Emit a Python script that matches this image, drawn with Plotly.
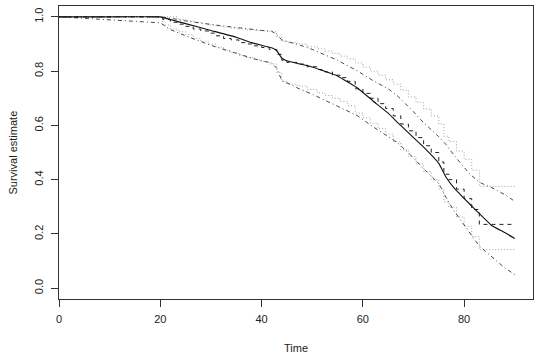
import plotly.graph_objects as go

# Kaplan-Meier step estimate (dashed) with pointwise CI (dotted)
km_time = [0, 20.5, 22, 23.5, 25, 26.5, 28, 29.5, 31, 32.5, 34, 35.5, 37, 38.5, 40, 41.5, 43, 44, 45,
           47, 49, 51, 52.5, 54, 55.5, 57, 58.5, 60, 61.5, 63, 64.5, 66, 67.5, 69, 70.5, 72, 73.5,
           75, 76, 77, 78.5, 80, 81.5, 83, 90]
km_surv = [1.0, 0.99, 0.98, 0.973, 0.965, 0.955, 0.948, 0.94, 0.93, 0.92, 0.915, 0.905, 0.90, 0.893,
           0.887, 0.88, 0.862, 0.84, 0.832, 0.826, 0.816, 0.806, 0.797, 0.785, 0.776, 0.762, 0.735,
           0.718, 0.70, 0.68, 0.662, 0.635, 0.605, 0.58, 0.555, 0.525, 0.50, 0.465, 0.42, 0.40,
           0.365, 0.33, 0.29, 0.235, 0.235]
km_upper = [1.0, 1.0, 1.0, 0.99, 0.985, 0.98, 0.975, 0.97, 0.965, 0.962, 0.958, 0.955, 0.952, 0.95,
            0.948, 0.945, 0.925, 0.91, 0.905, 0.90, 0.89, 0.882, 0.874, 0.865, 0.855, 0.845, 0.83,
            0.815, 0.80, 0.785, 0.768, 0.752, 0.73, 0.705, 0.685, 0.66, 0.635, 0.605, 0.56, 0.54,
            0.505, 0.475, 0.435, 0.375, 0.375]
km_lower = [1.0, 0.97, 0.955, 0.945, 0.935, 0.92, 0.91, 0.90, 0.888, 0.877, 0.868, 0.857, 0.85, 0.842,
            0.835, 0.826, 0.795, 0.762, 0.752, 0.745, 0.732, 0.72, 0.71, 0.70, 0.688, 0.672, 0.645,
            0.628, 0.608, 0.588, 0.568, 0.54, 0.51, 0.485, 0.458, 0.43, 0.40, 0.365, 0.318, 0.298,
            0.262, 0.228, 0.19, 0.142, 0.142]

# Fitted survival curve (solid) with CI (dot-dash)
fit_time = [0, 10, 20, 22, 25, 30, 35, 38, 40, 42, 43, 44, 45, 47.4, 50, 55, 59, 62, 65, 67, 70,
            72, 75, 76.4, 78, 81, 83, 85.5, 88, 90]
fit_surv = [1.0, 1.0, 1.0, 0.99, 0.975, 0.95, 0.925, 0.905, 0.895, 0.886, 0.875, 0.848, 0.838,
            0.827, 0.815, 0.782, 0.737, 0.69, 0.645, 0.608, 0.555, 0.52, 0.46, 0.41, 0.37, 0.312,
            0.275, 0.23, 0.205, 0.183]
fit_upper = [1.0, 1.0, 1.0, 0.995, 0.985, 0.972, 0.96, 0.953, 0.95, 0.947, 0.935, 0.915, 0.91,
             0.897, 0.88, 0.84, 0.80, 0.765, 0.735, 0.706, 0.65, 0.61, 0.558, 0.53, 0.49, 0.423,
             0.39, 0.37, 0.345, 0.32]
fit_lower = [1.0, 0.99, 0.978, 0.953, 0.93, 0.895, 0.865, 0.848, 0.838, 0.83, 0.81, 0.765, 0.757,
             0.735, 0.715, 0.672, 0.635, 0.595, 0.56, 0.534, 0.48, 0.44, 0.386, 0.335, 0.285, 0.205,
             0.155, 0.115, 0.075, 0.05]

x_ticks = [0, 20, 40, 60, 80]
y_ticks = [0.0, 0.2, 0.4, 0.6, 0.8, 1.0]
y_tick_text = ["0.0", "0.2", "0.4", "0.6", "0.8", "1.0"]

fig = go.Figure()
fig.add_trace(go.Scatter(x=km_time, y=km_upper, mode="lines", line_shape="hv",
                         line=dict(color="#a0a0a0", width=1, dash="1px,2px")))
fig.add_trace(go.Scatter(x=km_time, y=km_lower, mode="lines", line_shape="hv",
                         line=dict(color="#a0a0a0", width=1, dash="1px,2px")))
fig.add_trace(go.Scatter(x=fit_time, y=fit_upper, mode="lines",
                         line=dict(color="#4a4a4a", width=1, dash="1px,3px,4px,3px")))
fig.add_trace(go.Scatter(x=fit_time, y=fit_lower, mode="lines",
                         line=dict(color="#4a4a4a", width=1, dash="1px,3px,4px,3px")))
fig.add_trace(go.Scatter(x=km_time, y=km_surv, mode="lines", line_shape="hv",
                         line=dict(color="#222222", width=1, dash="4px,4px")))
fig.add_trace(go.Scatter(x=fit_time, y=fit_surv, mode="lines", line_shape="spline",
                         line=dict(color="#111111", width=1.1, smoothing=0.3)))

axis_font = dict(family="Liberation Sans, Arial, sans-serif", size=11, color="#222222")

fig.update_layout(
    width=539, height=360,
    margin=dict(l=59, r=6, t=6, b=61),
    plot_bgcolor="white", paper_bgcolor="white",
    showlegend=False,
    font=axis_font,
    xaxis=dict(range=[0, 93.6], tickvals=x_ticks, ticks="outside", ticklen=7,
               ticklabelstandoff=3,
               tickcolor="#333333", showgrid=False, zeroline=False,
               showline=True, linecolor="#333333", linewidth=1, mirror=True,
               tickfont=axis_font),
    yaxis=dict(range=[-0.04, 1.04], tickvals=y_ticks, ticktext=y_tick_text,
               ticks="outside", ticklen=7, tickangle=-90, ticklabelstandoff=4,
               tickcolor="#333333", showgrid=False, zeroline=False,
               showline=True, linecolor="#333333", linewidth=1, mirror=True,
               tickfont=axis_font),
    annotations=[
        dict(text="Time", xref="paper", yref="paper", x=0.5, y=0, yshift=-49,
             showarrow=False, xanchor="center", yanchor="middle", font=axis_font),
        dict(text="Survival estimate", xref="paper", yref="paper", x=0, y=0.5, xshift=-47,
             showarrow=False, textangle=-90, xanchor="center", yanchor="middle", font=axis_font),
    ],
)

fig.write_html("out.html")
